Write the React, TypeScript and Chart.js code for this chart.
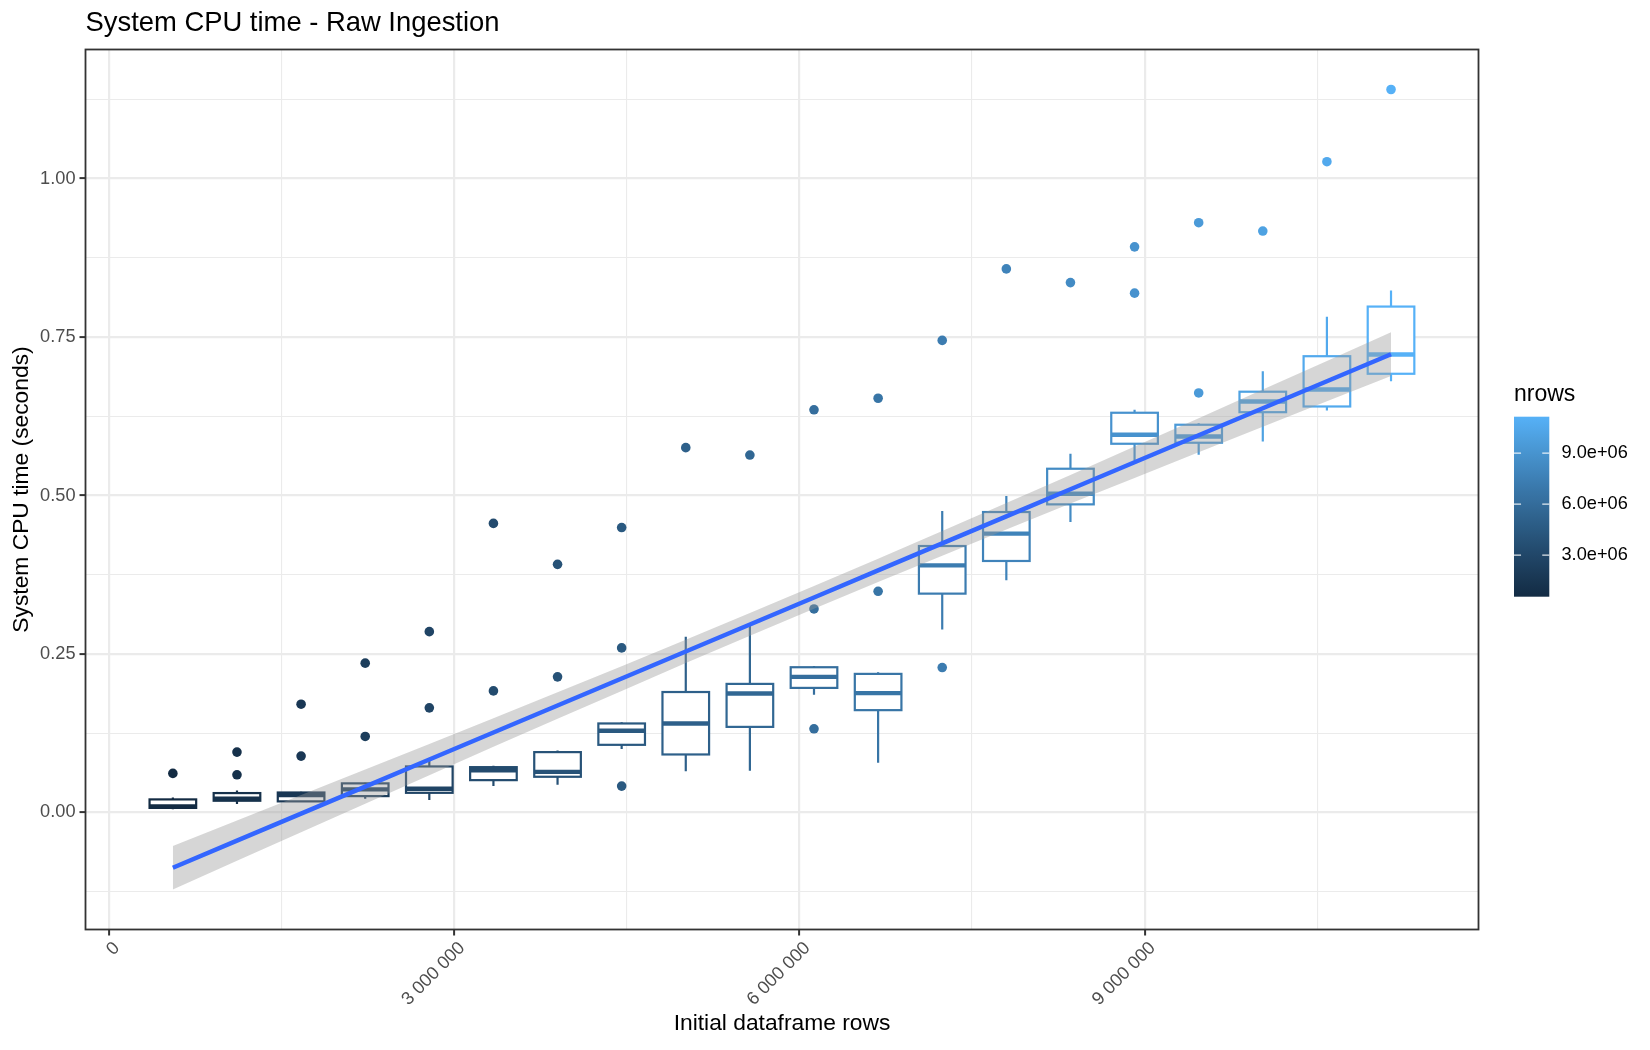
import React, { useEffect, useRef } from "react";
import { Chart, registerables } from "chart.js";

Chart.register(...registerables);

// ---- data -------------------------------------------------------------

// Initial dataframe size (rows) for each group of runs
const ROWS = [
  557000, 1114000, 1671000, 2228000, 2785000, 3342000, 3899000, 4456000, 5013000, 5570000,
  6127000, 6684000, 7241000, 7798000, 8355000, 8912000, 9469000, 10026000, 10583000, 11140000,
];

// Box-plot statistics of system CPU time (seconds)
const WHISKER_LOW = [
  0.005, 0.0132, 0.0164, 0.0216, 0.0195, 0.0416, 0.0437, 0.1, 0.0652, 0.0657,
  0.1855, 0.0783, 0.2885, 0.3662, 0.4581, 0.5553, 0.5643, 0.5853, 0.634, 0.6803,
];
const Q1 = [
  0.0072, 0.0185, 0.0175, 0.0258, 0.031, 0.051, 0.0563, 0.1067, 0.0915, 0.135,
  0.1965, 0.1614, 0.3452, 0.3967, 0.486, 0.5816, 0.5832, 0.6314, 0.6404, 0.692,
];
const MEDIAN = [
  0.0095, 0.0216, 0.0275, 0.0364, 0.0374, 0.0665, 0.0641, 0.1288, 0.1404, 0.1877,
  0.2139, 0.1882, 0.3898, 0.4398, 0.5028, 0.5958, 0.5931, 0.6483, 0.6672, 0.7223,
];
const Q3 = [
  0.0206, 0.0306, 0.0315, 0.0459, 0.0726, 0.0715, 0.0952, 0.1404, 0.19, 0.2028,
  0.2291, 0.2186, 0.4203, 0.4739, 0.5422, 0.6305, 0.6116, 0.6637, 0.7197, 0.798,
];
const WHISKER_HIGH = [
  0.0238, 0.0348, 0.0325, 0.047, 0.0815, 0.0736, 0.0979, 0.1425, 0.277, 0.295,
  0.2312, 0.2212, 0.4754, 0.4991, 0.5658, 0.6352, 0.6141, 0.696, 0.7818, 0.8232,
];

// Outlying runs
const OUTLIER_ROWS = [
  557000, 1114000, 1114000, 1671000, 1671000, 2228000, 2228000, 2785000, 2785000,
  3342000, 3342000, 3899000, 3899000, 4456000, 4456000, 4456000, 5013000, 5570000,
  6127000, 6127000, 6127000, 6684000, 6684000, 7241000, 7241000, 7798000, 8355000,
  8912000, 8912000, 9469000, 9469000, 10026000, 10583000, 11140000,
];
const OUTLIER_TIMES = [
  0.0616, 0.0952, 0.0594, 0.1708, 0.0889, 0.2355, 0.1199, 0.2852, 0.165,
  0.456, 0.1918, 0.3914, 0.2139, 0.4494, 0.2596, 0.0416, 0.5755, 0.5638,
  0.6352, 0.321, 0.132, 0.6534, 0.3489, 0.7446, 0.2286, 0.8574, 0.8358,
  0.8922, 0.8192, 0.9303, 0.6617, 0.9171, 1.0265, 1.1404,
];

// Linear fit and its confidence band, evaluated at each group
const FIT_Y = [
  -0.0871, -0.0444, -0.0018, 0.0408, 0.0835, 0.1261, 0.1687, 0.2113, 0.254, 0.2966,
  0.3392, 0.3819, 0.4245, 0.4671, 0.5098, 0.5524, 0.595, 0.6377, 0.6803, 0.7229,
];
const BAND_LOW = [
  -0.1215, -0.0762, -0.0311, 0.0139, 0.0588, 0.1035, 0.1478, 0.1918, 0.2356, 0.2787,
  0.3213, 0.3635, 0.405, 0.4462, 0.4872, 0.5277, 0.5681, 0.6084, 0.6485, 0.6885,
];
const BAND_HIGH = [
  -0.0527, -0.0126, 0.0275, 0.0677, 0.1082, 0.1487, 0.1896, 0.2308, 0.2724, 0.3145,
  0.3571, 0.4003, 0.444, 0.488, 0.5324, 0.5771, 0.6219, 0.667, 0.7121, 0.7573,
];

// Axis ticks
const X_MAJOR = [0, 3000000, 6000000, 9000000];
const X_MINOR = [1500000, 4500000, 7500000, 10500000];
const Y_MAJOR = [0, 0.25, 0.5, 0.75, 1.0];
const Y_MINOR = [-0.125, 0.125, 0.375, 0.625, 0.875, 1.125];
const LEGEND_TICKS = [3000000, 6000000, 9000000];

// ---- styling ------------------------------------------------------------

const FONT = '"Liberation Sans", Arial, Helvetica, sans-serif';
const LOW_COLOUR = "#132B43";
const HIGH_COLOUR = "#56B1F7";
const BOX_WIDTH = 405000;
const X_MIN = -202000;
const X_MAX = 11900000;
const Y_MIN = -0.1846;
const Y_MAX = 1.2035;

// ---- colour scale (interpolated in CIE Lab) -------------------------------

const WHITE = [0.95047, 1.0, 1.08883];
const toLin = (c: number) => {
  const v = c / 255;
  return v <= 0.04045 ? v / 12.92 : Math.pow((v + 0.055) / 1.055, 2.4);
};
const fromLin = (c: number) => {
  const v = c <= 0.0031308 ? 12.92 * c : 1.055 * Math.pow(c, 1 / 2.4) - 0.055;
  return Math.round(Math.max(0, Math.min(1, v)) * 255);
};
const fLab = (t: number) => (t > 216 / 24389 ? Math.cbrt(t) : ((24389 / 27) * t + 16) / 116);
const fLabInv = (t: number) => (t * t * t > 216 / 24389 ? t * t * t : (116 * t - 16) / (24389 / 27));

function hexToLab(hex: string) {
  const r = toLin(parseInt(hex.slice(1, 3), 16));
  const g = toLin(parseInt(hex.slice(3, 5), 16));
  const b = toLin(parseInt(hex.slice(5, 7), 16));
  const X = 0.4124 * r + 0.3576 * g + 0.1805 * b;
  const Y = 0.2126 * r + 0.7152 * g + 0.0722 * b;
  const Z = 0.0193 * r + 0.1192 * g + 0.9505 * b;
  const fx = fLab(X / WHITE[0]);
  const fy = fLab(Y / WHITE[1]);
  const fz = fLab(Z / WHITE[2]);
  return [116 * fy - 16, 500 * (fx - fy), 200 * (fy - fz)];
}

function labToCss(L: number, a: number, bb: number) {
  const fy = (L + 16) / 116;
  const fx = fy + a / 500;
  const fz = fy - bb / 200;
  const X = WHITE[0] * fLabInv(fx);
  const Y = WHITE[1] * fLabInv(fy);
  const Z = WHITE[2] * fLabInv(fz);
  const r = 3.2406 * X - 1.5372 * Y - 0.4986 * Z;
  const g = -0.9689 * X + 1.8758 * Y + 0.0415 * Z;
  const b = 0.0557 * X - 0.204 * Y + 1.057 * Z;
  return `rgb(${fromLin(r)}, ${fromLin(g)}, ${fromLin(b)})`;
}

const LAB_LOW = hexToLab(LOW_COLOUR);
const LAB_HIGH = hexToLab(HIGH_COLOUR);
const NROWS_MIN = Math.min(...ROWS);
const NROWS_MAX = Math.max(...ROWS);

function colourFor(nrows: number) {
  const t = Math.max(0, Math.min(1, (nrows - NROWS_MIN) / (NROWS_MAX - NROWS_MIN)));
  return labToCss(
    LAB_LOW[0] + (LAB_HIGH[0] - LAB_LOW[0]) * t,
    LAB_LOW[1] + (LAB_HIGH[1] - LAB_LOW[1]) * t,
    LAB_LOW[2] + (LAB_HIGH[2] - LAB_LOW[2]) * t
  );
}

const spaced = (v: number) => String(Math.round(v)).replace(/\B(?=(\d{3})+(?!\d))/g, " ");
function scientific(v: number) {
  const e = Math.floor(Math.log10(Math.abs(v)));
  const m = v / Math.pow(10, e);
  return `${m.toFixed(1)}e${e < 0 ? "-" : "+"}${String(Math.abs(e)).padStart(2, "0")}`;
}

// ---- plugins -------------------------------------------------------------

const boxPlotPlugin = {
  id: "boxPlots",
  beforeDatasetsDraw(chart: any) {
    const { ctx, chartArea, scales } = chart;
    const x = scales.x;
    const y = scales.y;
    ctx.save();
    ctx.beginPath();
    ctx.rect(chartArea.left, chartArea.top, chartArea.right - chartArea.left, chartArea.bottom - chartArea.top);
    ctx.clip();
    ctx.lineCap = "butt";
    ROWS.forEach((rows, i) => {
      const colour = colourFor(rows);
      const cx = x.getPixelForValue(rows);
      const left = x.getPixelForValue(rows - BOX_WIDTH / 2);
      const right = x.getPixelForValue(rows + BOX_WIDTH / 2);
      const yLo = y.getPixelForValue(WHISKER_LOW[i]);
      const yQ1 = y.getPixelForValue(Q1[i]);
      const yMed = y.getPixelForValue(MEDIAN[i]);
      const yQ3 = y.getPixelForValue(Q3[i]);
      const yHi = y.getPixelForValue(WHISKER_HIGH[i]);
      ctx.strokeStyle = colour;
      ctx.lineWidth = 2.2;
      ctx.beginPath();
      ctx.moveTo(cx, yHi);
      ctx.lineTo(cx, yQ3);
      ctx.moveTo(cx, yQ1);
      ctx.lineTo(cx, yLo);
      ctx.stroke();
      ctx.fillStyle = "#FFFFFF";
      ctx.fillRect(left, yQ3, right - left, yQ1 - yQ3);
      ctx.strokeRect(left, yQ3, right - left, yQ1 - yQ3);
      ctx.lineWidth = 4.4;
      ctx.beginPath();
      ctx.moveTo(left, yMed);
      ctx.lineTo(right, yMed);
      ctx.stroke();
    });
    ctx.restore();
  },
};

const framePlugin = {
  id: "panelFrame",
  afterDraw(chart: any) {
    const { ctx, chartArea } = chart;
    ctx.save();
    // panel border
    ctx.strokeStyle = "#333333";
    ctx.lineWidth = 1.8;
    ctx.strokeRect(chartArea.left, chartArea.top, chartArea.right - chartArea.left, chartArea.bottom - chartArea.top);

    // plot title
    ctx.fillStyle = "#000000";
    ctx.font = `27.4px ${FONT}`;
    ctx.textAlign = "left";
    ctx.textBaseline = "alphabetic";
    ctx.fillText("System CPU time - Raw Ingestion", chartArea.left, 31);

    // colour bar legend
    const barLeft = 1514;
    const barTop = 416.7;
    const barW = 35.3;
    const barH = 180;
    ctx.font = `23px ${FONT}`;
    ctx.textBaseline = "middle";
    ctx.fillText("nrows", barLeft, 395);

    const grad = ctx.createLinearGradient(0, barTop + barH, 0, barTop);
    const stops = 24;
    for (let s = 0; s <= stops; s++) {
      const t = s / stops;
      grad.addColorStop(t, colourFor(NROWS_MIN + t * (NROWS_MAX - NROWS_MIN)));
    }
    ctx.fillStyle = grad;
    ctx.fillRect(barLeft, barTop, barW, barH);

    ctx.font = `18.2px ${FONT}`;
    ctx.fillStyle = "#000000";
    LEGEND_TICKS.forEach((v) => {
      const ty = barTop + barH - ((v - NROWS_MIN) / (NROWS_MAX - NROWS_MIN)) * barH;
      ctx.strokeStyle = "rgba(255,255,255,0.85)";
      ctx.lineWidth = 1.1;
      ctx.beginPath();
      ctx.moveTo(barLeft, ty);
      ctx.lineTo(barLeft + barW / 5, ty);
      ctx.moveTo(barLeft + barW, ty);
      ctx.lineTo(barLeft + barW - barW / 5, ty);
      ctx.stroke();
      ctx.fillText(scientific(v), 1561.5, ty);
    });
    ctx.restore();
  },
};

// ---- component ----------------------------------------------------------

export default function App() {
  const canvasRef = useRef<HTMLCanvasElement | null>(null);

  useEffect(() => {
    const canvas = canvasRef.current;
    if (!canvas) return;

    const xTicks = [...X_MAJOR, ...X_MINOR].sort((a, b) => a - b);
    const yTicks = [...Y_MAJOR, ...Y_MINOR].sort((a, b) => a - b);
    const xIsMajor = (v: number) => X_MAJOR.includes(v);
    const yIsMajor = (v: number) => Y_MAJOR.includes(v);

    const chart = new Chart(canvas, {
      type: "line",
      data: {
        datasets: [
          {
            label: "outliers",
            data: OUTLIER_ROWS.map((r, i) => ({ x: r, y: OUTLIER_TIMES[i] })),
            showLine: false,
            pointRadius: 4.8,
            pointHoverRadius: 4.8,
            pointBorderWidth: 0,
            pointBackgroundColor: OUTLIER_ROWS.map(colourFor),
            pointBorderColor: OUTLIER_ROWS.map(colourFor),
            order: 3,
          },
          {
            label: "band low",
            data: ROWS.map((r, i) => ({ x: r, y: BAND_LOW[i] })),
            borderColor: "rgba(0,0,0,0)",
            borderWidth: 0,
            pointRadius: 0,
            fill: false,
            order: 2,
          },
          {
            label: "band high",
            data: ROWS.map((r, i) => ({ x: r, y: BAND_HIGH[i] })),
            borderColor: "rgba(0,0,0,0)",
            borderWidth: 0,
            pointRadius: 0,
            fill: "-1",
            backgroundColor: "rgba(153,153,153,0.4)",
            order: 2,
          },
          {
            label: "fit",
            data: ROWS.map((r, i) => ({ x: r, y: FIT_Y[i] })),
            borderColor: "#3366FF",
            borderWidth: 4.4,
            pointRadius: 0,
            tension: 0,
            fill: false,
            order: 1,
          },
        ],
      },
      options: {
        animation: false,
        responsive: false,
        maintainAspectRatio: false,
        events: [],
        layout: { padding: { left: 0, top: 49.5, right: 171.5, bottom: 0 } },
        plugins: {
          legend: { display: false },
          tooltip: { enabled: false },
          title: { display: false },
        },
        scales: {
          x: {
            type: "linear",
            min: X_MIN,
            max: X_MAX,
            afterBuildTicks: (scale: any) => {
              scale.ticks = xTicks.map((v) => ({ value: v }));
            },
            afterFit: (scale: any) => {
              scale.height = 120.5;
            },
            ticks: {
              autoSkip: false,
              minRotation: 45,
              maxRotation: 45,
              padding: 2,
              labelOffset: 8,
              color: "#4D4D4D",
              font: { family: FONT, size: 18.2 },
              callback: (v: any) => (xIsMajor(Number(v)) ? spaced(Number(v)) : ""),
            },
            grid: {
              color: "#EBEBEB",
              lineWidth: (ctx: any) => (ctx.tick && xIsMajor(ctx.tick.value) ? 2.2 : 1.1),
              tickColor: (ctx: any) => (ctx.tick && xIsMajor(ctx.tick.value) ? "#333333" : "rgba(0,0,0,0)"),
              tickLength: 6,
              tickWidth: 2,
            },
            border: { display: false },
            title: {
              display: true,
              text: "Initial dataframe rows",
              color: "#000000",
              font: { family: FONT, size: 22.8 },
              padding: { top: 0, bottom: 12.2 },
            },
          },
          y: {
            type: "linear",
            min: Y_MIN,
            max: Y_MAX,
            afterBuildTicks: (scale: any) => {
              scale.ticks = yTicks.map((v) => ({ value: v }));
            },
            afterFit: (scale: any) => {
              scale.width = 85.5;
            },
            ticks: {
              autoSkip: false,
              padding: 4,
              color: "#4D4D4D",
              font: { family: FONT, size: 18.2 },
              callback: (v: any) => (yIsMajor(Number(v)) ? Number(v).toFixed(2) : ""),
            },
            grid: {
              color: "#EBEBEB",
              lineWidth: (ctx: any) => (ctx.tick && yIsMajor(ctx.tick.value) ? 2.2 : 1.1),
              tickColor: (ctx: any) => (ctx.tick && yIsMajor(ctx.tick.value) ? "#333333" : "rgba(0,0,0,0)"),
              tickLength: 6,
              tickWidth: 2,
            },
            border: { display: false },
            title: {
              display: true,
              text: "System CPU time (seconds)",
              color: "#000000",
              font: { family: FONT, size: 22.8 },
              padding: { top: 8, bottom: 0 },
            },
          },
        },
      },
      plugins: [boxPlotPlugin, framePlugin],
    } as any);

    return () => chart.destroy();
  }, []);

  return (
    <div style={{ position: "absolute", left: 0, top: 0, width: 1650, height: 1050, background: "#FFFFFF" }}>
      <canvas ref={canvasRef} width={1650} height={1050} style={{ display: "block", width: 1650, height: 1050 }} />
    </div>
  );
}
